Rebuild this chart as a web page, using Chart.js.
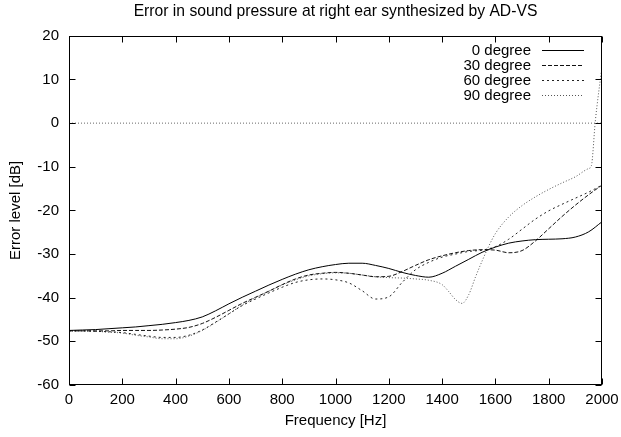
<!DOCTYPE html>
<html>
<head>
<meta charset="utf-8">
<script src="https://cdn.jsdelivr.net/npm/chart.js@4.4.1/dist/chart.umd.min.js"></script>
<style>body{margin:0;background:#fff}</style>
</head>
<body>
<canvas id="line-chart" width="621" height="437"></canvas>
<script>
// frequency grid [Hz]
var freq = [0,50,100,150,200,250,300,350,400,450,500,550,600,650,700,750,800,850,900,950,
  1000,1050,1100,1150,1200,1250,1300,1350,1400,1450,1500,1550,1600,1650,1700,1750,1800,1850,1900,1950,2000];
var deg0 = [-47.5,-47.4,-47.3,-47.1,-46.9,-46.7,-46.4,-46.1,-45.7,-45.2,-44.4,-43.0,-41.4,-39.9,-38.5,-37.1,-35.8,-34.6,-33.6,-32.9,
  -32.4,-32.1,-32.1,-32.6,-33.3,-34.2,-34.9,-35.3,-34.4,-32.8,-31.2,-29.6,-28.4,-27.5,-27.0,-26.7,-26.6,-26.5,-26.1,-24.9,-22.6];
var deg30 = [-47.6,-47.6,-47.6,-47.6,-47.5,-47.5,-47.5,-47.4,-47.2,-46.8,-45.9,-44.5,-42.9,-41.3,-39.9,-38.5,-37.0,-35.7,-34.8,-34.4,
  -34.2,-34.4,-34.8,-35.2,-35.1,-34.0,-32.6,-31.3,-30.4,-29.7,-29.2,-29.0,-29.1,-29.7,-29.2,-27.0,-24.2,-21.4,-18.8,-16.4,-14.2];
var deg60 = [-47.6,-47.6,-47.7,-47.8,-48.0,-48.4,-48.8,-49.1,-49.1,-48.6,-47.4,-45.6,-43.7,-41.8,-40.3,-38.9,-37.6,-36.5,-35.9,-35.7,
  -35.9,-36.6,-38.4,-40.3,-39.8,-36.5,-33.6,-31.9,-30.7,-30.0,-29.4,-29.1,-28.3,-26.6,-24.3,-22.0,-20.1,-18.6,-17.2,-15.8,-14.2];
// 90 degree has sharper features, so it gets its own grid
var freq90 = [0,50,100,150,200,250,300,350,400,450,500,550,600,650,700,750,800,850,900,950,
  1000,1050,1100,1150,1200,1250,1300,1350,1400,1425,1450,1475,1500,1525,1550,1575,1600,1650,1700,1750,1800,1850,1900,1950,1960,1975,2000];
var deg90 = [-47.6,-47.6,-47.7,-47.9,-48.1,-48.6,-49.0,-49.4,-49.4,-48.8,-47.5,-45.7,-43.7,-41.7,-40.0,-38.5,-37.1,-35.9,-35.0,-34.5,
  -34.3,-34.4,-34.8,-35.2,-35.4,-35.5,-35.7,-36.0,-37.0,-38.6,-40.4,-41.3,-39.3,-35.3,-31.6,-28.2,-25.3,-21.5,-18.9,-16.9,-15.2,-13.7,-12.3,-10.4,-9.8,0.5,13.0];
var zeroLevel = 0;
var xRange = [0, 2000];
var yRange = [-60, 20];

function pts(xs, ys) {
  return xs.map(function (x, i) { return { x: x, y: ys[i] }; });
}

Chart.defaults.font.family = '"Liberation Sans", Arial, sans-serif';
Chart.defaults.font.size = 15;
Chart.defaults.color = '#000';

// gnuplot-like frame, inward ticks on all sides, and key in the top-right corner
var gnuFrame = {
  id: 'gnuFrame',
  afterDatasetsDraw: function (chart) {
    var ctx = chart.ctx, a = chart.chartArea, xs = chart.scales.x, ys = chart.scales.y;
    var L = Math.round(a.left) + 0.5, R = Math.round(a.right) - 0.5;
    var T = Math.round(a.top) + 0.5, B = Math.round(a.bottom) - 0.5;
    ctx.save();
    ctx.strokeStyle = '#000';
    ctx.lineWidth = 1;
    ctx.setLineDash([]);
    ctx.strokeRect(L, T, R - L, B - T);
    ctx.beginPath();
    xs.ticks.forEach(function (t) {
      var p = Math.round(xs.getPixelForValue(t.value)) + 0.5;
      ctx.moveTo(p, B); ctx.lineTo(p, B - 6);
      ctx.moveTo(p, T); ctx.lineTo(p, T + 6);
    });
    ys.ticks.forEach(function (t) {
      var p = Math.round(ys.getPixelForValue(t.value)) + 0.5;
      ctx.moveTo(L, p); ctx.lineTo(L + 6, p);
      ctx.moveTo(R, p); ctx.lineTo(R - 6, p);
    });
    ctx.stroke();

    var row = 0;
    ctx.font = '15px "Liberation Sans", Arial, sans-serif';
    ctx.textAlign = 'right';
    ctx.textBaseline = 'middle';
    chart.data.datasets.forEach(function (ds) {
      if (!ds.label) return;
      var y = Math.round(a.top + 14 + row * 15) + 0.5;
      ctx.fillStyle = '#000';
      ctx.fillText(ds.label, a.right - 71, y);
      ctx.strokeStyle = ds.borderColor;
      ctx.setLineDash(ds.borderDash || []);
      ctx.beginPath();
      ctx.moveTo(a.right - 60, y);
      ctx.lineTo(a.right - 18, y);
      ctx.stroke();
      row++;
    });
    ctx.restore();
  }
};

var ctx = document.getElementById('line-chart');
var myChart = new Chart(ctx, {
  type: 'line',
  data: {
    datasets: [
      { label: '0 degree', data: pts(freq, deg0), borderColor: '#000', borderDash: [] },
      { label: '30 degree', data: pts(freq, deg30), borderColor: '#111', borderDash: [4, 2] },
      { label: '60 degree', data: pts(freq, deg60), borderColor: '#222', borderDash: [2, 3] },
      { label: '90 degree', data: pts(freq90, deg90), borderColor: '#555', borderDash: [1, 2] },
      { label: '', data: pts(xRange, [zeroLevel, zeroLevel]), borderColor: '#666', borderDash: [1, 2] }
    ]
  },
  options: {
    responsive: false,
    animation: false,
    layout: { padding: { left: 0, right: 19, top: 0, bottom: 0 } },
    elements: {
      point: { radius: 0 },
      line: { borderWidth: 1, cubicInterpolationMode: 'monotone', fill: false }
    },
    scales: {
      x: {
        type: 'linear',
        min: xRange[0],
        max: xRange[1],
        grid: { display: false, drawTicks: false },
        border: { display: false },
        ticks: { stepSize: 200, padding: 6, maxRotation: 0, autoSkip: false,
          callback: function (v) { return String(v); } },
        title: { display: true, text: 'Frequency [Hz]', padding: { top: 0, bottom: 7 } },
        afterFit: function (s) { s.height = 52; s.paddingRight = 0; }
      },
      y: {
        min: yRange[0],
        max: yRange[1],
        grid: { display: false, drawTicks: false },
        border: { display: false },
        ticks: { stepSize: 10, padding: 10, autoSkip: false },
        title: { display: true, text: 'Error level [dB]', padding: { top: 7, bottom: 0 } },
        afterFit: function (s) { s.width = 69; }
      }
    },
    plugins: {
      legend: { display: false },
      tooltip: { enabled: false },
      title: {
        display: true,
        fullSize: false,
        text: 'Error in sound pressure at right ear synthesized by AD-VS',
        font: { size: 15.7, weight: 'normal' },
        color: '#000',
        padding: { top: 2, bottom: 15 }
      }
    }
  },
  plugins: [gnuFrame]
});
</script>
</body>
</html>
